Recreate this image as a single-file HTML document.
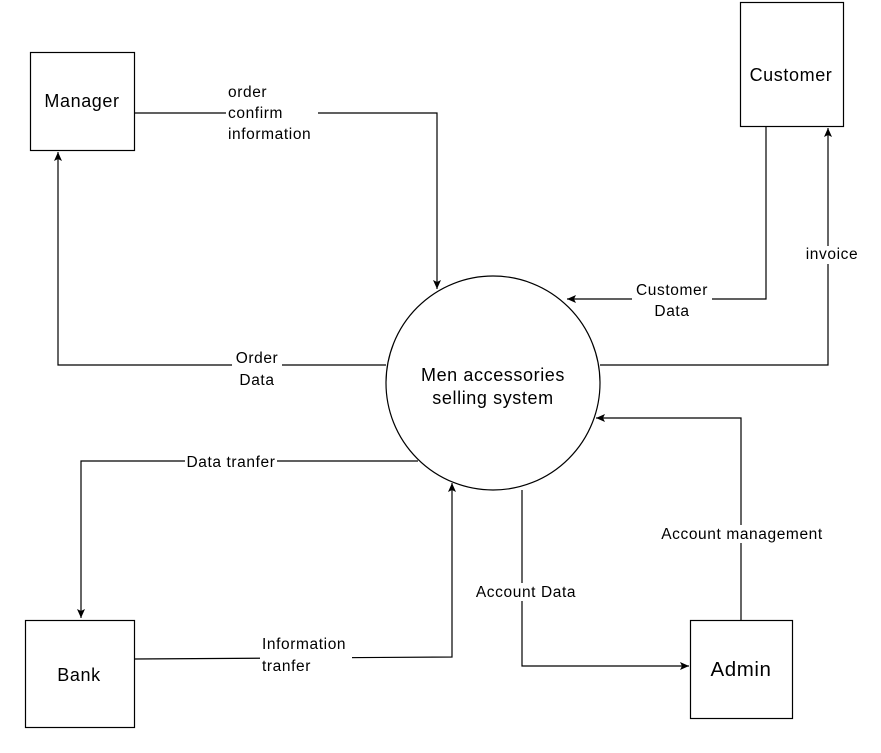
<!DOCTYPE html>
<html><head><style>
body{margin:0;background:#fff;}
svg text{font-family:"Liberation Sans",sans-serif;fill:#000;}
</style></head><body>
<svg width="881" height="748" viewBox="0 0 881 748" xmlns="http://www.w3.org/2000/svg">
<defs><marker id="a" markerWidth="10" markerHeight="10" refX="9" refY="5" orient="auto" markerUnits="userSpaceOnUse"><path d="M0,1 L9,5 L0,9 L2,5 Z" fill="#000"/></marker></defs>
<rect width="881" height="748" fill="#fff"/>
<g fill="none" stroke="#000" stroke-width="1.2">
<rect x="30.5" y="52.5" width="104" height="98"/>
<rect x="740.5" y="2.5" width="103" height="124"/>
<rect x="25.5" y="620.5" width="109" height="107"/>
<rect x="690.5" y="620.5" width="102" height="98"/>
<circle cx="493" cy="383" r="107"/>
<polyline points="134,113 437,113 437,289" marker-end="url(#a)"/>
<polyline points="766,126 766,299 567,299" marker-end="url(#a)"/>
<polyline points="600,365 828,365 828,128" marker-end="url(#a)"/>
<polyline points="386,365 58,365 58,152" marker-end="url(#a)"/>
<polyline points="418,461 81,461 81,618" marker-end="url(#a)"/>
<polyline points="134,659 452,657 452,483" marker-end="url(#a)"/>
<polyline points="522,490 522,666 689,666" marker-end="url(#a)"/>
<polyline points="741,620 741,418 596,418" marker-end="url(#a)"/>
</g>
<g fill="#fff">
<rect x="226" y="84" width="92" height="58"/>
<rect x="632" y="282" width="80" height="38"/>
<rect x="804" y="246" width="56" height="18"/>
<rect x="232" y="350" width="50" height="38"/>
<rect x="185" y="454" width="92" height="15"/>
<rect x="260" y="636" width="92" height="40"/>
<rect x="472" y="583" width="108" height="18"/>
<rect x="656" y="525" width="172" height="18"/>
</g>
<g font-size="15.5" style="letter-spacing:0.6px">
<text x="82" y="107" text-anchor="middle" font-size="18">Manager</text>
<text x="791" y="81" text-anchor="middle" font-size="18">Customer</text>
<text x="79" y="681" text-anchor="middle" font-size="18">Bank</text>
<text x="741" y="676" text-anchor="middle" font-size="20.5">Admin</text>
<text x="493" y="381" text-anchor="middle" font-size="18">Men accessories</text>
<text x="493" y="404" text-anchor="middle" font-size="18">selling system</text>
<text x="228" y="97">order</text>
<text x="228" y="118">confirm</text>
<text x="228" y="139">information</text>
<text x="672" y="295" text-anchor="middle">Customer</text>
<text x="672" y="316" text-anchor="middle">Data</text>
<text x="832" y="259" text-anchor="middle">invoice</text>
<text x="257" y="363" text-anchor="middle">Order</text>
<text x="257" y="385" text-anchor="middle">Data</text>
<text x="231" y="467" text-anchor="middle">Data tranfer</text>
<text x="262" y="649">Information</text>
<text x="262" y="671">tranfer</text>
<text x="526" y="597" text-anchor="middle">Account Data</text>
<text x="742" y="539" text-anchor="middle">Account management</text>
</g>
</svg>
</body></html>
